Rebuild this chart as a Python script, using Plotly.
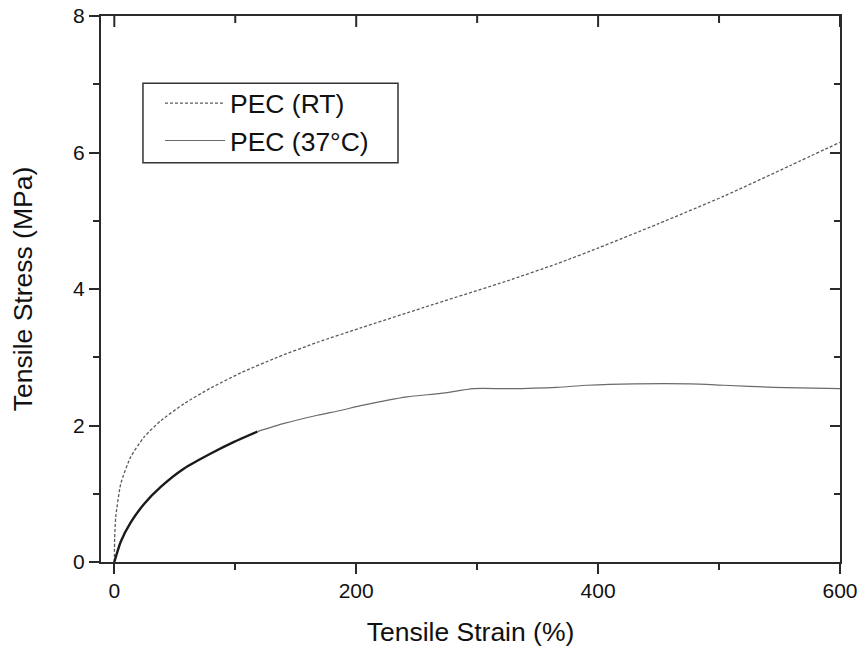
import plotly.graph_objects as go

# ---- data ----
strain_rt = [0, 0.3, 1.2, 5.4, 13.6, 24.6, 38.4, 57.7, 79.8, 104.5, 134.9, 168, 203.7,
             256, 325, 366, 400, 449, 504, 559, 600]
stress_rt = [0, 0.35, 0.66, 1.15, 1.54, 1.83, 2.07, 2.32, 2.55, 2.77, 3.00, 3.22, 3.43,
             3.73, 4.12, 4.37, 4.60, 4.95, 5.36, 5.81, 6.15]

strain_37 = [0, 5.4, 13.6, 24.6, 38.4, 57.7, 79.8, 99, 118.3, 140.3, 168, 187, 203.7,
             242, 270, 297, 325, 366, 391, 430, 476, 504, 545, 600]
stress_37 = [0, 0.30, 0.58, 0.85, 1.10, 1.37, 1.59, 1.76, 1.91, 2.03, 2.15, 2.22, 2.29,
             2.42, 2.47, 2.54, 2.54, 2.56, 2.59, 2.61, 2.61, 2.59, 2.56, 2.54]

name_rt = "PEC (RT)"
name_37 = "PEC (37°C)"
x_title = "Tensile Strain (%)"
y_title = "Tensile Stress (MPa)"
x_ticks = [0, 200, 400, 600]
x_minor = [100, 300, 500]
y_ticks = [0, 2, 4, 6, 8]
y_minor = [1, 3, 5, 7]

# split index for the dense (thick) early part of the 37°C curve
split = next(i for i, v in enumerate(strain_37) if v >= 118)

FONT = "Liberation Sans, Arial, sans-serif"
AX = "#2a2a2a"
TXT = "#111111"

xr = [-11, 600]
yr = [0, 8]
PLOT_H = 649 - 16 - 87                  # plot-area height in px
PX = (yr[1] - yr[0]) / PLOT_H           # one pixel in y data units

fig = go.Figure()
fig.add_trace(go.Scatter(x=strain_rt, y=stress_rt, mode="lines", name=name_rt,
                         line=dict(color="#5a5a5a", width=1.3, dash="3px,2px",
                                   shape="spline", smoothing=0.6)))
fig.add_trace(go.Scatter(x=strain_37[split:], y=stress_37[split:], mode="lines", name=name_37,
                         legendgroup="g37",
                         line=dict(color="#6a6a6a", width=1.2, shape="spline", smoothing=0.6)))
fig.add_trace(go.Scatter(x=strain_37[:split + 1], y=stress_37[:split + 1], mode="lines",
                         legendgroup="g37", showlegend=False,
                         line=dict(color="#1a1a1a", width=2.4, shape="spline", smoothing=0.6)))

# inward tick marks on the top edge, built from the tick value lists
tx, ty = [], []
for v in x_ticks:
    tx += [v, v, None]
    ty += [yr[1], yr[1] - 11 * PX, None]
for v in x_minor:
    tx += [v, v, None]
    ty += [yr[1], yr[1] - 7 * PX, None]
fig.add_trace(go.Scatter(x=tx, y=ty, mode="lines", showlegend=False, hoverinfo="skip",
                         cliponaxis=False, line=dict(color=AX, width=2)))

# dummy trace to realise the mirrored right axis
fig.add_trace(go.Scatter(x=[None], y=[None], xaxis="x", yaxis="y2", showlegend=False,
                         hoverinfo="skip"))

common = dict(tickwidth=2, tickcolor=AX, showline=True, linecolor=AX, linewidth=2,
              showgrid=False, zeroline=False, automargin=False)

legend_box = dict(type="rect", xref="paper", yref="paper", x0=0.0568, x1=0.4019,
                  y0=0.731, y1=0.877, line=dict(color="#333333", width=1.5),
                  fillcolor="white", layer="below")

fig.update_layout(
    width=860, height=649,
    margin=dict(l=101, r=20, t=16, b=87, autoexpand=False),
    paper_bgcolor="white", plot_bgcolor="white",
    font=dict(family=FONT, color=TXT),
    showlegend=True,
    legend=dict(x=0.0798, y=0.884, xanchor="left", yanchor="top",
                borderwidth=0, bgcolor="rgba(0,0,0,0)",
                font=dict(size=26.5, family=FONT, color=TXT),
                itemwidth=60, tracegroupgap=0),
    shapes=[legend_box],
    xaxis=dict(range=xr, tickvals=x_ticks, ticks="outside", ticklen=10,
               ticklabelstandoff=-1, mirror=True,
               tickfont=dict(size=21, family=FONT, color=TXT),
               minor=dict(tickvals=x_minor, ticks="outside", ticklen=6,
                          tickwidth=2, tickcolor=AX, showgrid=False),
               title=dict(text=x_title, font=dict(size=26.5, family=FONT, color=TXT),
                          standoff=21), **common),
    yaxis=dict(range=yr, tickvals=y_ticks, ticks="outside", ticklen=10,
               tickfont=dict(size=21, family=FONT, color=TXT),
               minor=dict(tickvals=y_minor, ticks="outside", ticklen=6,
                          tickwidth=2, tickcolor=AX, showgrid=False),
               title=dict(text=y_title, font=dict(size=26.5, family=FONT, color=TXT),
                          standoff=33), **common),
    yaxis2=dict(overlaying="y", side="right", anchor="x", range=yr, tickvals=y_ticks,
                ticks="inside", ticklen=10, showticklabels=False,
                minor=dict(tickvals=y_minor, ticks="inside", ticklen=6,
                           tickwidth=2, tickcolor=AX, showgrid=False), **common),
)

fig.write_html("out.html", config={"displayModeBar": False},
               post_script="document.body.style.margin='0';document.body.style.overflow='hidden';")
